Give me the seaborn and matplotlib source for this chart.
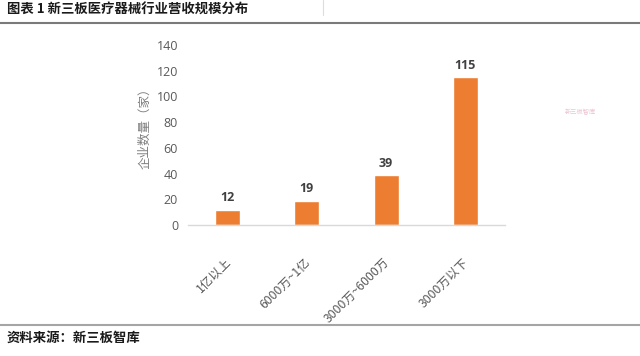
import matplotlib
matplotlib.use("Agg")
import matplotlib.pyplot as plt
import seaborn as sns
import pandas as pd
from matplotlib.lines import Line2D
from matplotlib.transforms import ScaledTranslation

# Revenue-size buckets and number of companies in each
categories = ["1亿以上", "6000万~1亿", "3000万~6000万", "3000万以下"]
counts = [12, 19, 39, 115]
yticks = [0, 20, 40, 60, 80, 100, 120, 140]

title_text = "图表 1 新三板医疗器械行业营收规模分布"
source_text = "资料来源：新三板智库"
ylabel_text = "企业数量（家）"

sns.set_theme(style="white")
plt.rcParams["font.family"] = ["Noto Sans CJK SC", "DejaVu Sans"]

df = pd.DataFrame({"category": categories, "count": counts})

fig = plt.figure(figsize=(6.4, 3.56), dpi=100)
fig.patch.set_facecolor("white")
ax = fig.add_axes([0.2935, 0.368, 0.4955, 0.5056])

sns.barplot(data=df, x="category", y="count", color="#ED7D31",
            width=0.315, saturation=1, ax=ax)

ax.set_ylim(0, 140)
ax.set_xlim(-0.5, 3.5)
ax.set_yticks(yticks)
ax.set_yticklabels([str(t) for t in yticks], fontsize=9, color="#595959",
                   family=["Open Sans", "DejaVu Sans"])
ax.tick_params(axis="y", length=0, pad=7)
ax.tick_params(axis="x", length=0, pad=22)
ax.set_xticks(range(len(categories)))
ax.set_xticklabels(categories, rotation=45, ha="right", va="top",
                   rotation_mode="anchor", fontsize=8.8, color="#595959")
shift = ScaledTranslation(-3 / 100, 0, fig.dpi_scale_trans)
for lbl in ax.get_xticklabels():
    lbl.set_transform(lbl.get_transform() + shift)

ax.set_xlabel("")
ax.set_ylabel(ylabel_text, fontsize=9, color="#7f7f7f")
ax.yaxis.set_label_coords(-0.115, 0.555)

for s in ["top", "right", "left"]:
    ax.spines[s].set_visible(False)
ax.spines["bottom"].set_color("#d9d9d9")
ax.spines["bottom"].set_linewidth(1)

# value labels above bars
for i, v in enumerate(counts):
    ax.text(i, v + 4, str(v), ha="center", va="bottom", fontsize=9,
            fontweight="bold", color="#404040",
            family=["Open Sans", "DejaVu Sans"])

# header and footer
fig.text(7 / 640, 1 - 10 / 356, title_text, ha="left", va="center",
         fontsize=9.6, fontweight="bold", color="#1a1a1a")
fig.add_artist(Line2D([0, 1], [1 - 23 / 356, 1 - 23 / 356],
                      color="#7a7a7a", linewidth=1.5))
fig.add_artist(Line2D([323 / 640, 323 / 640], [1 - 15 / 356, 1],
                      color="#dddddd", linewidth=0.8))
fig.add_artist(Line2D([0, 1], [1 - 325 / 356, 1 - 325 / 356],
                      color="#a5a5a5", linewidth=1.5))
fig.text(7 / 640, 1 - 338 / 356, source_text, ha="left", va="center",
         fontsize=9.6, fontweight="bold", color="#1a1a1a")

# faint logo mark
fig.text(580 / 640, 1 - 112 / 356, "新三板智库", ha="center", va="center",
         fontsize=4.5, color="#e8b4c4", alpha=0.8)

fig.savefig("out.png", dpi=100, facecolor="white")
